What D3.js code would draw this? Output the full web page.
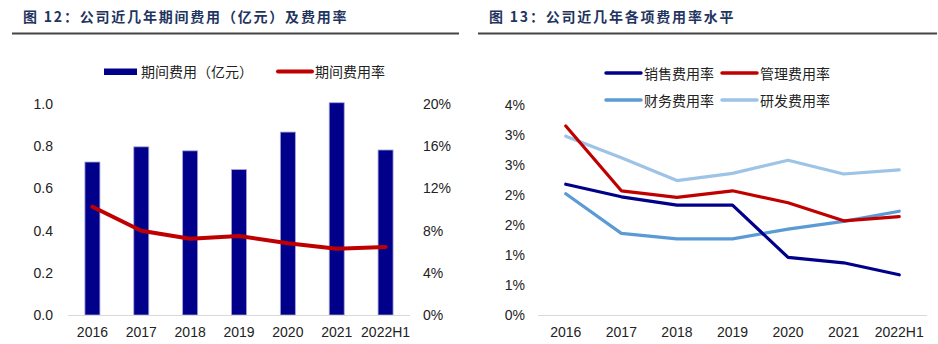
<!DOCTYPE html>
<html>
<head>
<meta charset="utf-8">
<script src="https://cdn.jsdelivr.net/npm/d3@7"></script>
<style>
  html, body { margin: 0; padding: 0; background: #fff; }
  svg { display: block; font-family: "Liberation Sans", Arial, "Noto Sans CJK SC", sans-serif; }
  .title { font-family: "Noto Sans CJK SC", sans-serif; font-weight: 700; fill: #1f3560; font-size: 14px; letter-spacing: 1.8px; }
  .tick text { font-size: 14px; fill: #222; }
  .legend text { font-family: "Noto Sans CJK SC", sans-serif; font-size: 14px; fill: #222; }
</style>
</head>
<body>
<svg id="chart" width="938" height="344"></svg>
<script>
const years = ['2016', '2017', '2018', '2019', '2020', '2021', '2022H1'];

// 图12: 期间费用 (亿元) and 期间费用率
const periodExpense = [0.725, 0.797, 0.778, 0.689, 0.867, 1.006, 0.782];
const periodRate = [0.1026, 0.0799, 0.0723, 0.0749, 0.068, 0.0629, 0.0645];
const leftTicks = [0, 0.2, 0.4, 0.6, 0.8, 1.0];
const rightTicks = [0, 0.04, 0.08, 0.12, 0.16, 0.20];

// 图13: individual expense ratios
const salesRate = [0.0218, 0.0197, 0.0183, 0.0183, 0.0096, 0.0087, 0.0067];
const adminRate = [0.0315, 0.0207, 0.0196, 0.0207, 0.0187, 0.0157, 0.0164];
const financeRate = [0.0202, 0.0136, 0.0127, 0.0127, 0.0143, 0.0156, 0.0173];
const rdRate = [0.0298, 0.0262, 0.0224, 0.0236, 0.0258, 0.0235, 0.0242];
const ratioTicks = [0, 0.005, 0.01, 0.015, 0.02, 0.025, 0.03, 0.035];
const ratioTickLabels = ['0%', '1%', '1%', '2%', '2%', '3%', '3%', '4%'];

const NAVY = '#00008b';
const RED = '#c00000';
const MID_BLUE = '#5b9bd5';
const LIGHT_BLUE = '#9dc3e6';

const svg = d3.select('#chart');

function header(x0, x1, label) {
  svg.append('text').attr('class', 'title').attr('x', x0 + 11).attr('y', 22).text(label);
  svg.append('line').attr('x1', x0).attr('x2', x1).attr('y1', 33.5).attr('y2', 33.5)
    .attr('stroke', '#444').attr('stroke-width', 2);
}

function cleanAxis(g) {
  g.select('.domain').remove();
  g.selectAll('.tick line').remove();
}

// ---- left: bars + rate line on a secondary axis ----
header(12, 459, '图 12：公司近几年期间费用（亿元）及费用率');

const xL = d3.scaleBand().domain(years).range([68, 410]);
const yL = d3.scaleLinear().domain([0, 1.0]).range([315, 104]);
const yR = d3.scaleLinear().domain([0, 0.20]).range([315, 104]);

svg.append('g').attr('transform', 'translate(53,0)')
  .call(d3.axisLeft(yL).tickValues(leftTicks).tickFormat(d3.format('.1f')).tickSize(0).tickPadding(0))
  .call(cleanAxis);

svg.append('g').attr('transform', 'translate(423,0)')
  .call(d3.axisRight(yR).tickValues(rightTicks).tickFormat(d3.format('.0%')).tickSize(0).tickPadding(0))
  .call(cleanAxis);

const barW = 15;
svg.append('g').selectAll('rect').data(periodExpense).join('rect')
  .attr('x', (d, i) => xL(years[i]) + xL.bandwidth() / 2 - barW / 2)
  .attr('y', (d) => yL(d))
  .attr('width', barW)
  .attr('height', (d) => yL(0) - yL(d))
  .attr('fill', NAVY)
  .attr('stroke', '#a3a3d6').attr('stroke-width', 0.8);

svg.append('line').attr('x1', 68).attr('x2', 410).attr('y1', 315.5).attr('y2', 315.5)
  .attr('stroke', '#d9d9d9').attr('stroke-width', 1);

svg.append('g').attr('transform', 'translate(0,337)')
  .call(d3.axisBottom(xL).tickSize(0).tickPadding(0))
  .call(cleanAxis)
  .selectAll('text').attr('dy', 0);

svg.append('path')
  .datum(periodRate)
  .attr('d', d3.line().x((d, i) => xL(years[i]) + xL.bandwidth() / 2).y((d) => yR(d)))
  .attr('fill', 'none').attr('stroke', RED).attr('stroke-width', 4).attr('stroke-linecap', 'round').attr('stroke-linejoin', 'round');

const legL = svg.append('g').attr('class', 'legend');
legL.append('rect').attr('x', 104).attr('y', 68.5).attr('width', 33).attr('height', 6.5).attr('fill', NAVY);
legL.append('text').attr('x', 141).attr('y', 77).text('期间费用（亿元）');
legL.append('line').attr('x1', 278).attr('x2', 312).attr('y1', 71.5).attr('y2', 71.5)
  .attr('stroke', RED).attr('stroke-width', 4).attr('stroke-linecap', 'round');
legL.append('text').attr('x', 315).attr('y', 77).text('期间费用率');

// ---- right: four expense ratio lines ----
header(478, 937, '图 13：公司近几年各项费用率水平');

const xR = d3.scaleBand().domain(years).range([538, 927]);
const yP = d3.scaleLinear().domain([0, 0.035]).range([315, 105]);

svg.append('g').attr('transform', 'translate(525,0)')
  .call(d3.axisLeft(yP).tickValues(ratioTicks).tickFormat((d, i) => ratioTickLabels[i]).tickSize(0).tickPadding(0))
  .call(cleanAxis);

svg.append('line').attr('x1', 538).attr('x2', 927).attr('y1', 315.5).attr('y2', 315.5)
  .attr('stroke', '#d9d9d9').attr('stroke-width', 1);

svg.append('g').attr('transform', 'translate(0,337)')
  .call(d3.axisBottom(xR).tickSize(0).tickPadding(0))
  .call(cleanAxis)
  .selectAll('text').attr('dy', 0);

const series = [
  { name: '研发费用率', values: rdRate, color: LIGHT_BLUE },
  { name: '财务费用率', values: financeRate, color: MID_BLUE },
  { name: '管理费用率', values: adminRate, color: RED },
  { name: '销售费用率', values: salesRate, color: NAVY },
];

const lineR = d3.line().x((d, i) => xR(years[i]) + xR.bandwidth() / 2).y((d) => yP(d));
svg.append('g').selectAll('path').data(series).join('path')
  .attr('d', (s) => lineR(s.values))
  .attr('fill', 'none').attr('stroke', (s) => s.color).attr('stroke-width', 3.2)
  .attr('stroke-linecap', 'round').attr('stroke-linejoin', 'round');

const legendItems = [
  { name: '销售费用率', color: NAVY, x: 606, y: 73 },
  { name: '管理费用率', color: RED, x: 722, y: 73 },
  { name: '财务费用率', color: MID_BLUE, x: 606, y: 100 },
  { name: '研发费用率', color: LIGHT_BLUE, x: 722, y: 100 },
];
const legR = svg.append('g').attr('class', 'legend');
legendItems.forEach((it) => {
  legR.append('line').attr('x1', it.x).attr('x2', it.x + 35).attr('y1', it.y).attr('y2', it.y)
    .attr('stroke', it.color).attr('stroke-width', 3.5).attr('stroke-linecap', 'round');
  legR.append('text').attr('x', it.x + 38).attr('y', it.y + 5.5).text(it.name);
});
</script>
</body>
</html>
